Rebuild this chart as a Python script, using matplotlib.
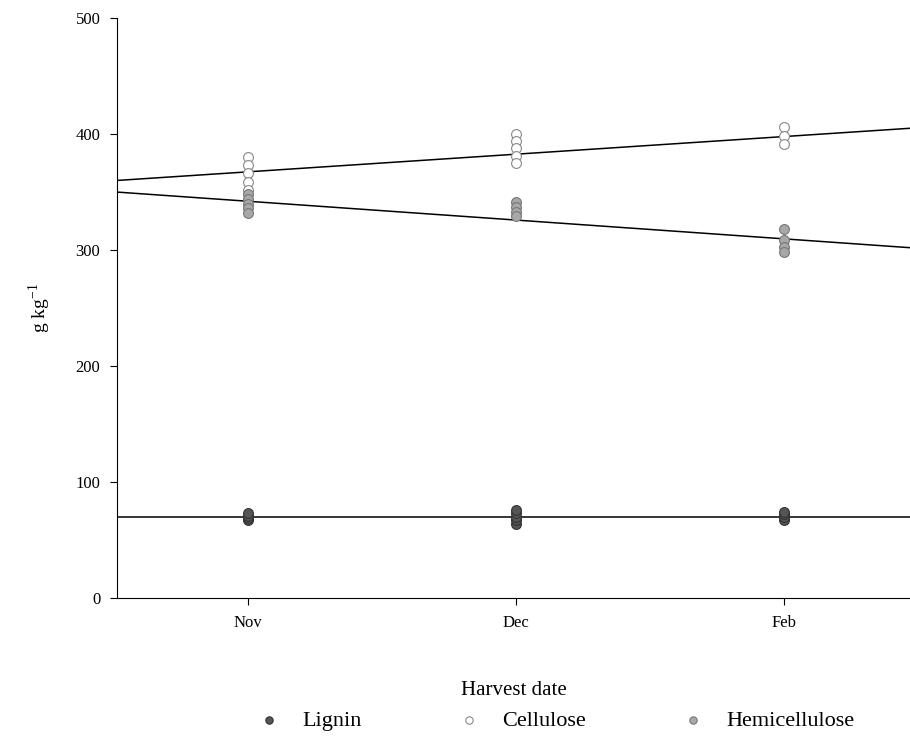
import matplotlib
matplotlib.use("Agg")
import matplotlib.pyplot as plt
import numpy as np

plt.rcParams['font.family'] = ['Liberation Serif', 'DejaVu Serif']

categories = ["Nov", "Dec", "Feb"]

lignin = [[67, 69, 71, 73], [64, 67, 70, 73, 76], [67, 70, 72, 74]]
cellulose = [[380, 373, 366, 359, 352], [400, 394, 388, 381, 375], [406, 398, 391]]
hemicellulose = [[348, 344, 340, 336, 332], [341, 337, 333, 329], [318, 309, 303, 298]]

# fitted regression lines: (intercept at x=0, slope per harvest step)
fit_lignin = [70.0, 0.0]
fit_cellulose = [352.2, 15.2]
fit_hemicellulose = [358.2, -16.2]

fig = plt.figure(figsize=(9.1, 7.41), dpi=100)
ax = fig.add_axes([0.1286, 0.193, 0.8714, 0.7827])

xpos = np.arange(1, len(categories) + 1)
xlim = (0.51, 3.47)
xl = np.array(xlim)

for fit in (fit_cellulose, fit_hemicellulose, fit_lignin):
    ax.plot(xl, fit[0] + fit[1] * xl, color='black', lw=1.1, zorder=2)

def scatter(vals, face, edge, label):
    xs, ys = [], []
    for x, v in zip(xpos, vals):
        xs += [x] * len(v)
        ys += v
    return ax.scatter(xs, ys, s=50, facecolor=face, edgecolor=edge, linewidths=0.8,
                      zorder=3, label=label)

h1 = scatter(lignin, '#555555', '#333333', 'Lignin')
h2 = scatter(cellulose, 'white', '#888888', 'Cellulose')
h3 = scatter(hemicellulose, '#a8a8a8', '#777777', 'Hemicellulose')

ax.set_xlim(*xlim)
ax.set_ylim(0, 500)
ax.set_xticks(xpos)
ax.set_xticklabels(categories)
ax.set_yticks([0, 100, 200, 300, 400, 500])
ax.spines['top'].set_visible(False)
ax.spines['right'].set_visible(False)
ax.tick_params(direction='out', length=5, labelsize=12, pad=7)
ax.set_ylabel('g kg$^{\\mathregular{-1}}$', fontsize=14, labelpad=16)
ax.set_xlabel('Harvest date', fontsize=15, labelpad=36)

fig.legend(handles=[h1, h2, h3], ncol=3, frameon=False, loc='center',
           bbox_to_anchor=(0.61, 0.028), fontsize=16, markerscale=0.75,
           columnspacing=4.2, handletextpad=0.9, handlelength=1.2)

fig.savefig('out.png', dpi=100)
